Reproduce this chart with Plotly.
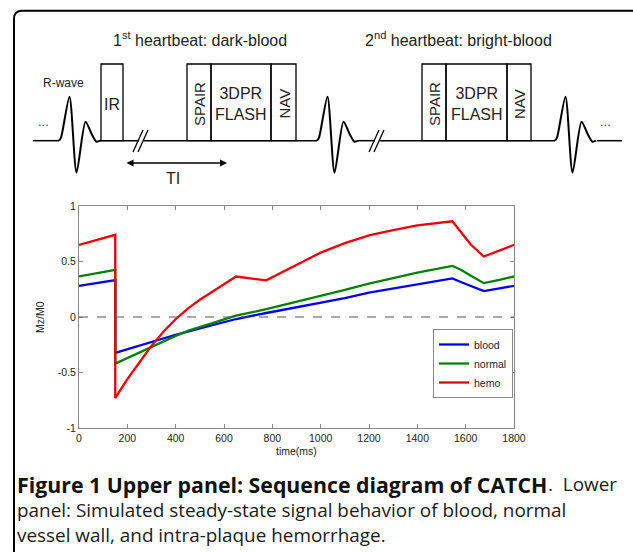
import plotly.graph_objects as go

# ---------------- data (lower panel) ----------------
time_ms = [0, 150, 150, 200, 250, 300, 350, 400, 450, 500, 550, 600, 650, 775,
           900, 1000, 1100, 1200, 1300, 1400, 1545, 1580, 1620, 1675, 1740, 1800]
blood = [0.281, 0.332, -0.323, -0.29, -0.255, -0.222, -0.19, -0.16, -0.132, -0.105,
         -0.078, -0.05, -0.018, 0.036, 0.085, 0.13, 0.17, 0.22, 0.255, 0.293,
         0.347, 0.315, 0.28, 0.234, 0.258, 0.281]
normal = [0.365, 0.425, -0.42, -0.37, -0.32, -0.265, -0.215, -0.17, -0.125, -0.09,
          -0.055, -0.02, 0.012, 0.07, 0.135, 0.19, 0.245, 0.30, 0.35, 0.40,
          0.461, 0.425, 0.375, 0.305, 0.335, 0.365]
hemo = [0.65, 0.74, -0.73, -0.56, -0.41, -0.26, -0.13, -0.02, 0.075, 0.155,
        0.225, 0.295, 0.365, 0.33, 0.47, 0.58, 0.665, 0.735, 0.782, 0.825,
        0.862, 0.77, 0.655, 0.545, 0.597, 0.65]
series_names = ["blood", "normal", "hemo"]
series_colors = ["#0000ee", "#008000", "#ee0000"]
x_ticks = [0, 200, 400, 600, 800, 1000, 1200, 1400, 1600, 1800]
y_ticks = [-1, -0.5, 0, 0.5, 1]
y_tick_labels = ["-1", "-0.5", "0", "0.5", "1"]

# ---------------- upper panel (sequence diagram, pixel space) ----------------
W, H = 633, 552
base_y = 140.7
ecg_starts = [59, 317, 555]
ecg_dx = [0, 2, 10.5, 17.5, 26.5, 33, 37.5, 41]
ecg_dy = [0, -3, -44, 32, -19, -6, 1, 0]
baseline_segments = [(33, 59), (99, 138.6), (143.6, 317), (358, 374.6), (379.6, 555), (597, 622)]
breaks = [133, 369]
boxes = [(101, 123, "IR", 0), (187, 211, "SPAIR", -90), (211, 271, "3DPR<br>FLASH", 0),
         (271, 296, "NAV", -90), (422, 446, "SPAIR", -90), (446, 507, "3DPR<br>FLASH", 0),
         (507, 531, "NAV", -90)]
box_top = 64

ARIAL = "Liberation Sans, Arial, sans-serif"
fig = go.Figure()

for name, vals, col in zip(series_names, [blood, normal, hemo], series_colors):
    fig.add_trace(go.Scatter(x=time_ms, y=vals, mode="lines", name=name,
                             line=dict(color=col, width=2.3), xaxis="x", yaxis="y"))

# ECG waveforms
for s in ecg_starts:
    fig.add_trace(go.Scatter(x=[s + d for d in ecg_dx], y=[base_y + d for d in ecg_dy],
                             mode="lines", line=dict(color="black", width=2, shape="spline", smoothing=0.7),
                             showlegend=False, hoverinfo="skip", xaxis="x2", yaxis="y2"))
# baseline
for a, b in baseline_segments:
    fig.add_trace(go.Scatter(x=[a, b], y=[base_y, base_y], mode="lines",
                             line=dict(color="black", width=1.5), showlegend=False,
                             hoverinfo="skip", xaxis="x2", yaxis="y2"))
# break marks
for bx in breaks:
    for off in (0, 5):
        fig.add_trace(go.Scatter(x=[bx + off, bx + off + 10], y=[152, 130], mode="lines",
                                 line=dict(color="black", width=1.3), showlegend=False,
                                 hoverinfo="skip", xaxis="x2", yaxis="y2"))

shapes = []
annotations = []
for x0, x1, label, ang in boxes:
    shapes.append(dict(type="rect", xref="x2", yref="y2", x0=x0, x1=x1, y0=box_top, y1=base_y,
                       line=dict(color="black", width=1.3), fillcolor="rgba(0,0,0,0)", layer="above"))
    annotations.append(dict(xref="x2", yref="y2", x=(x0 + x1) / 2, y=104,
                            text=label, showarrow=False, textangle=ang,
                            font=dict(family=ARIAL, size=16 if ang == 0 else 15, color="#222")))

# frame
shapes.append(dict(type="path", xref="x2", yref="y2",
                   path="M 633,10.7 L 22,10.7 Q 14,10.7 14,18.7 L 14,552",
                   line=dict(color="black", width=2)))
# zero dashed line
shapes.append(dict(type="line", xref="x domain", yref="y", x0=0, x1=1, y0=0, y1=0,
                   line=dict(color="#555", width=1, dash="dash")))

txt_font = dict(family=ARIAL, size=16, color="#222")
annotations += [
    dict(xref="x2", yref="y2", x=200, y=39, text="1<sup>st</sup> heartbeat: dark-blood", showarrow=False, font=txt_font),
    dict(xref="x2", yref="y2", x=458, y=39, text="2<sup>nd</sup> heartbeat: bright-blood", showarrow=False, font=txt_font),
    dict(xref="x2", yref="y2", x=63, y=83, text="R-wave", showarrow=False,
         font=dict(family=ARIAL, size=12, color="#222")),
    dict(xref="x2", yref="y2", x=43, y=121, text="...", showarrow=False,
         font=dict(family=ARIAL, size=13, color="#444")),
    dict(xref="x2", yref="y2", x=605, y=121, text="...", showarrow=False,
         font=dict(family=ARIAL, size=13, color="#444")),
    dict(xref="x2", yref="y2", x=173, y=178, text="TI", showarrow=False, font=txt_font),
    dict(xref="x2", yref="y2", axref="x2", ayref="y2", x=227, y=163, ax=125, ay=163,
         text="", showarrow=True, arrowhead=2, arrowside="end+start", arrowwidth=1.4,
         arrowsize=1, arrowcolor="black"),
    # axis titles
    dict(xref="x2", yref="y2", x=40, y=317, text="Mz/M0", showarrow=False, textangle=-90,
         font=dict(family=ARIAL, size=10.5, color="#222")),
    dict(xref="x2", yref="y2", x=296, y=451, text="time(ms)", showarrow=False,
         font=dict(family=ARIAL, size=10.5, color="#222")),
]

# caption
bold_font = dict(family="Open Sans", size=21.3, color="#111", weight="bold")
reg_font = dict(family="Open Sans", size=18.9, color="#1a1a1a")
annotations += [
    dict(xref="x2", yref="y2", x=15, y=484, xanchor="left", yanchor="middle", showarrow=False,
         text="Figure 1 Upper panel: Sequence diagram of CATCH", font=bold_font),
    dict(xref="x2", yref="y2", x=546, y=484, xanchor="left", yanchor="middle", showarrow=False,
         text=".  Lower", font=reg_font),
    dict(xref="x2", yref="y2", x=15, y=510, xanchor="left", yanchor="middle", showarrow=False,
         text="panel: Simulated steady-state signal behavior of blood, normal", font=reg_font),
    dict(xref="x2", yref="y2", x=15, y=535, xanchor="left", yanchor="middle", showarrow=False,
         text="vessel wall, and intra-plaque hemorrhage.", font=reg_font),
]

ax_font = dict(family=ARIAL, size=10.5, color="#222")
fig.update_layout(
    template="none",
    width=W, height=H, margin=dict(l=0, r=0, t=0, b=0, pad=0, autoexpand=False),
    paper_bgcolor="white", plot_bgcolor="rgba(0,0,0,0)",
    font=dict(family=ARIAL, color="#222"),
    xaxis=dict(domain=[79 / W, 514 / W], range=[0, 1800], tickvals=x_ticks, automargin=False,
               showgrid=False, zeroline=False, showline=True, linecolor="#888", linewidth=1,
               mirror="ticks", ticks="inside", ticklen=4, tickcolor="#888", tickfont=ax_font,
               anchor="y"),
    yaxis=dict(domain=[(H - 428) / H, (H - 206) / H], range=[-1, 1], tickvals=y_ticks,
               ticktext=y_tick_labels, showgrid=False, zeroline=False, showline=True, automargin=False,
               linecolor="#888", linewidth=1, mirror="ticks", ticks="inside", ticklen=4,
               tickcolor="#888", tickfont=ax_font, anchor="x"),
    xaxis2=dict(domain=[0, 1], range=[0, W], visible=False, anchor="y2", fixedrange=True, automargin=False),
    yaxis2=dict(domain=[0, 1], range=[H, 0], visible=False, anchor="x2", fixedrange=True, automargin=False),
    legend=dict(x=513 / W, y=(H - 398) / H, xanchor="right", yanchor="bottom",
                bgcolor="white", bordercolor="#888", borderwidth=1,
                font=dict(family=ARIAL, size=10.5, color="#222"),
                tracegroupgap=0, itemwidth=30),
    shapes=shapes, annotations=annotations, showlegend=True,
)

fig.write_html("out.html", config={"displayModeBar": False},
               post_script="document.body.style.margin='0px';document.body.style.overflow='hidden';")
